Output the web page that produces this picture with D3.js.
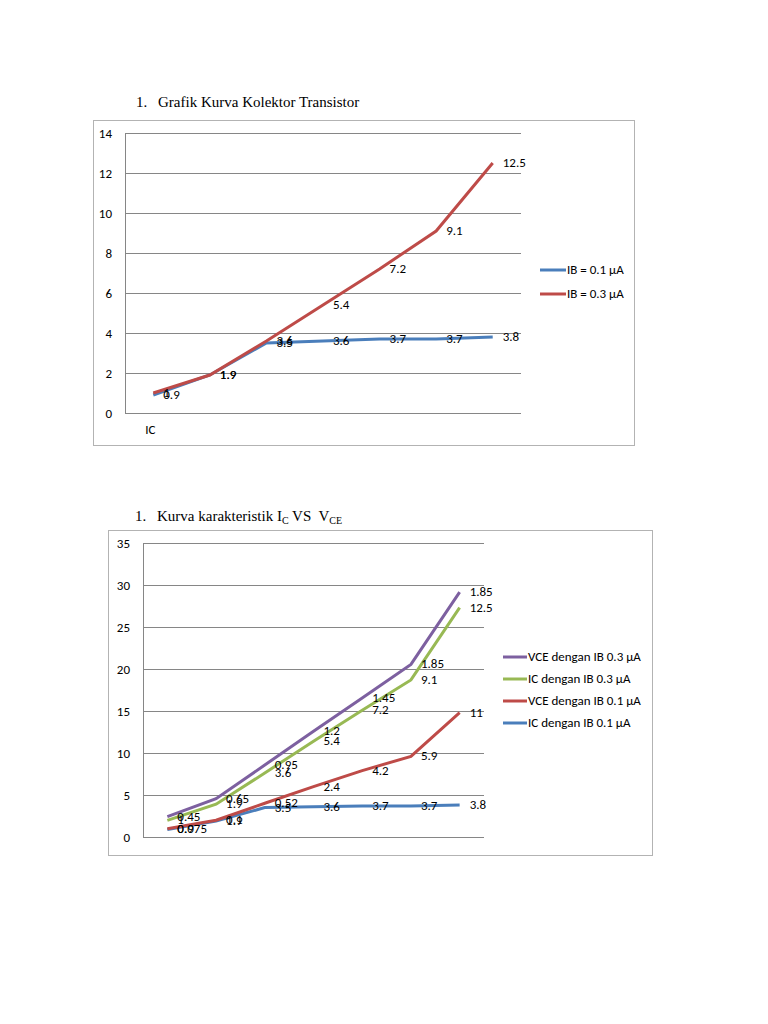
<!DOCTYPE html>
<html>
  <head>
    <script src="https://d3js.org/d3.v7.min.js"></script>
    <style>
      body { margin: 0; background: #fff; }
      svg text { font-family: Carlito, "Liberation Sans", Arial, sans-serif; }
      .title { font-family: "Liberation Serif", "Times New Roman", serif !important; font-size: 15px; fill: #000; white-space: pre; }
      .tick { font-size: 13px; fill: #000; }
      .lbl { font-size: 13px; fill: #000; }
    </style>
  </head>
  <body>
    <script>
      // chart 1 data
      var cats1 = ["IC", "", "", "", "", "", ""];
      var ticks1 = [0, 2, 4, 6, 8, 10, 12, 14];
      var ib01 = [0.9, 1.9, 3.5, 3.6, 3.7, 3.7, 3.8];
      var ib03 = [1, 1.9, 3.6, 5.4, 7.2, 9.1, 12.5];
      var names1 = ["IB = 0.1 \u00b5A", "IB = 0.3 \u00b5A"];

      // chart 2 data (stacked lines)
      var ticks2 = [0, 5, 10, 15, 20, 25, 30, 35];
      var icIb01 = [0.9, 1.9, 3.5, 3.6, 3.7, 3.7, 3.8];
      var vceIb01 = [0.075, 0.1, 0.52, 2.4, 4.2, 5.9, 11];
      var icIb03 = [1, 1.9, 3.6, 5.4, 7.2, 9.1, 12.5];
      var vceIb03 = [0.45, 0.65, 0.95, 1.2, 1.45, 1.85, 1.85];
      var names2 = ["IC dengan IB 0.1 \u00b5A", "VCE dengan IB 0.1 \u00b5A", "IC dengan IB 0.3 \u00b5A", "VCE dengan IB 0.3 \u00b5A"];

      var blue = "#4a7ebb", red = "#be4b48", green = "#98b954", purple = "#7d60a0";

      var svg = d3.select("body").append("svg")
          .attr("width", 768)
          .attr("height", 1024);

      function styleAxis(g) {
        g.select(".domain").attr("stroke", "#868686");
        g.selectAll("line").attr("stroke", "#868686");
        g.selectAll("text").attr("class", "tick");
      }

      /* ---------- chart 1 ---------- */
      var t1 = svg.append("text").attr("class", "title").attr("y", 107);
      t1.append("tspan").attr("x", 136).text("1.");
      t1.append("tspan").attr("x", 158).text("Grafik Kurva Kolektor Transistor");

      svg.append("rect")
          .attr("x", 93.5).attr("y", 120.5)
          .attr("width", 541).attr("height", 325)
          .attr("fill", "none").attr("stroke", "#b3b3b3");

      var x1 = d3.scalePoint().domain(d3.range(7)).range([125, 521]).padding(0.5);
      var y1 = d3.scaleLinear().domain([0, 14]).range([413, 133]);

      var g1 = svg.append("g");
      g1.append("g")
          .attr("transform", "translate(125,0)")
          .call(d3.axisLeft(y1).tickValues(ticks1).tickSize(-396).tickPadding(13))
          .call(styleAxis);
      g1.append("line").attr("x1", 125).attr("x2", 521).attr("y1", 413.5).attr("y2", 413.5).attr("stroke", "#868686");

      g1.selectAll(".cat").data(cats1).enter().append("text")
          .attr("class", "tick")
          .attr("x", function(d, i) { return x1(i) - 8; })
          .attr("y", 434)
          .text(function(d) { return d; });

      var line1 = d3.line().x(function(d, i) { return x1(i); }).y(function(d) { return y1(d); });
      [[ib01, blue], [ib03, red]].forEach(function(s) {
        g1.append("path").datum(s[0])
            .attr("d", line1)
            .attr("fill", "none").attr("stroke", s[1]).attr("stroke-width", 3);
      });
      [ib01, ib03].forEach(function(s) {
        g1.selectAll(null).data(s).enter().append("text")
            .attr("class", "lbl")
            .attr("x", function(d, i) { return x1(i) + 10; })
            .attr("y", function(d) { return y1(d) + 4; })
            .text(function(d) { return d; });
      });

      var leg1 = svg.append("g");
      [[names1[0], blue], [names1[1], red]].forEach(function(s, i) {
        var yy = 270 + i * 24;
        leg1.append("line").attr("x1", 540).attr("x2", 566).attr("y1", yy).attr("y2", yy)
            .attr("stroke", s[1]).attr("stroke-width", 3);
        leg1.append("text").attr("class", "lbl").attr("x", 567).attr("y", yy + 4).text(s[0]);
      });

      /* ---------- chart 2 ---------- */
      var t2 = svg.append("text").attr("class", "title").attr("y", 521);
      t2.append("tspan").attr("x", 135).text("1.");
      t2.append("tspan").attr("x", 157).text("Kurva karakteristik I");
      t2.append("tspan").attr("font-size", 10).attr("dy", 3).text("C");
      t2.append("tspan").attr("dy", -3).text(" VS  V");
      t2.append("tspan").attr("font-size", 10).attr("dy", 3).text("CE");

      svg.append("rect")
          .attr("x", 108.5).attr("y", 530.5)
          .attr("width", 544).attr("height", 325)
          .attr("fill", "none").attr("stroke", "#b3b3b3");

      var x2 = d3.scalePoint().domain(d3.range(7)).range([143, 484]).padding(0.5);
      var y2 = d3.scaleLinear().domain([0, 35]).range([837, 543]);

      var g2 = svg.append("g");
      g2.append("g")
          .attr("transform", "translate(143,0)")
          .call(d3.axisLeft(y2).tickValues(ticks2).tickSize(-341).tickPadding(13))
          .call(styleAxis);
      g2.append("line").attr("x1", 143).attr("x2", 484).attr("y1", 837.5).attr("y2", 837.5).attr("stroke", "#868686");

      var rows = d3.range(7).map(function(i) {
        return { a: icIb01[i], b: vceIb01[i], c: icIb03[i], d: vceIb03[i] };
      });
      var stacked = d3.stack().keys(["a", "b", "c", "d"])(rows);
      var colors2 = [blue, red, green, purple];
      var line2 = d3.line().x(function(d, i) { return x2(i); }).y(function(d) { return y2(d[1]); });

      stacked.forEach(function(s, k) {
        g2.append("path").datum(s)
            .attr("d", line2)
            .attr("fill", "none").attr("stroke", colors2[k]).attr("stroke-width", 3);
      });
      stacked.forEach(function(s, k) {
        g2.selectAll(null).data(s).enter().append("text")
            .attr("class", "lbl")
            .attr("x", function(d, i) { return x2(i) + 10; })
            .attr("y", function(d) { return y2(d[1]) + 4; })
            .text(function(d) { return d.data["abcd"[k]]; });
      });

      var leg2 = svg.append("g");
      [3, 2, 1, 0].forEach(function(k, i) {
        var yy = 657 + i * 22;
        leg2.append("line").attr("x1", 503).attr("x2", 527).attr("y1", yy).attr("y2", yy)
            .attr("stroke", colors2[k]).attr("stroke-width", 3);
        leg2.append("text").attr("class", "lbl").attr("x", 528).attr("y", yy + 4).text(names2[k]);
      });
    </script>
  </body>
</html>
